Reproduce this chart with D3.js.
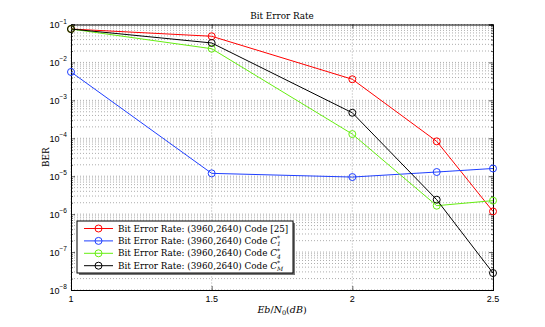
<!DOCTYPE html>
<html>
<head>
<meta charset="utf-8">
<script src="https://cdn.jsdelivr.net/npm/d3@7"></script>
<style>
  body { margin: 0; background: #fff; }
  svg { display: block; }
</style>
</head>
<body>
<svg id="chart" width="545" height="327"></svg>
<script>
// chart values
const ebno = [1, 1.5, 2, 2.3, 2.5];
const berCode25 = [0.076, 0.049, 0.0036, 8.3e-5, 1.18e-6];
const berC1 = [5.6e-3, 1.19e-5, 9.5e-6, 1.29e-5, 1.6e-5];
const berC4 = [0.076, 0.023, 1.29e-4, 1.67e-6, 2.27e-6];
const berCM = [0.076, 0.0326, 4.7e-4, 2.4e-6, 2.8e-8];
const xTicks = [1, 1.5, 2, 2.5];
const yExponents = [-1, -2, -3, -4, -5, -6, -7, -8];
const legendSubs = ["1", "4", "M"];

const series = [
  { values: berCode25, color: "#ff0000" },
  { values: berC1, color: "#1f3fff" },
  { values: berC4, color: "#66ee11" },
  { values: berCM, color: "#000000" }
];

const svg = d3.select("#chart");
const margin = { top: 24.5, right: 52, bottom: 37, left: 71 };
const width = 545 - margin.left - margin.right;
const height = 327 - margin.top - margin.bottom;

const x = d3.scaleLinear().domain([1, 2.5]).range([margin.left, margin.left + width]);
const y = d3.scaleLog().domain([1e-8, 1e-1]).range([margin.top + height, margin.top]);

const serif = "'DejaVu Serif', 'Liberation Serif', serif";
const sans = "'Liberation Sans', Arial, sans-serif";

// grid: minor horizontal lines
const minorVals = [];
for (let e = -8; e < -1; e++) {
  for (let m = 2; m <= 9; m++) minorVals.push(m * Math.pow(10, e));
}
const grid = svg.append("g").attr("stroke", "#8a8a8a").attr("stroke-width", 0.7)
  .attr("stroke-dasharray", "1,2");
grid.selectAll(".hminor").data(minorVals).enter().append("line")
  .attr("x1", x(1)).attr("x2", x(2.5))
  .attr("y1", d => y(d)).attr("y2", d => y(d));
grid.selectAll(".hmajor").data(yExponents).enter().append("line")
  .attr("x1", x(1)).attr("x2", x(2.5))
  .attr("y1", d => y(Math.pow(10, d))).attr("y2", d => y(Math.pow(10, d)));
grid.selectAll(".vmajor").data(xTicks).enter().append("line")
  .attr("y1", y(1e-1)).attr("y2", y(1e-8))
  .attr("x1", d => x(d)).attr("x2", d => x(d));

// axes with inward ticks
const allY = yExponents.map(e => Math.pow(10, e));
const axisG = svg.append("g");
axisG.append("g").attr("transform", `translate(0,${y(1e-8)})`)
  .call(d3.axisBottom(x).tickValues(xTicks).tickSize(-4).tickFormat(""));
axisG.append("g").attr("transform", `translate(0,${y(1e-1)})`)
  .call(d3.axisTop(x).tickValues(xTicks).tickSize(-4).tickFormat(""));
axisG.append("g").attr("transform", `translate(${x(1)},0)`)
  .call(d3.axisLeft(y).tickValues(allY).tickSize(-4).tickFormat(""));
axisG.append("g").attr("transform", `translate(${x(2.5)},0)`)
  .call(d3.axisRight(y).tickValues(allY).tickSize(-4).tickFormat(""));
axisG.append("g").attr("transform", `translate(${x(1)},0)`)
  .call(d3.axisLeft(y).tickValues(minorVals).tickSize(-2).tickFormat(""));
axisG.append("g").attr("transform", `translate(${x(2.5)},0)`)
  .call(d3.axisRight(y).tickValues(minorVals).tickSize(-2).tickFormat(""));
axisG.selectAll(".domain").attr("stroke", "#000").attr("stroke-width", 1);
axisG.selectAll(".tick line").attr("stroke", "#000").attr("stroke-width", 0.6);

// x tick labels
svg.selectAll(".xlab").data(xTicks).enter().append("text")
  .attr("x", d => x(d)).attr("y", y(1e-8) + 12)
  .attr("text-anchor", "middle")
  .attr("font-family", sans).attr("font-size", 9)
  .text(d => d);

// y tick labels 10^e
const ylab = svg.selectAll(".ylab").data(yExponents).enter().append("text")
  .attr("x", x(1) - 4).attr("y", d => y(Math.pow(10, d)) + 3.5)
  .attr("text-anchor", "end")
  .attr("font-family", sans).attr("font-size", 9);
ylab.append("tspan").text("10");
ylab.append("tspan").attr("dy", -4.5).attr("font-size", 6.5).text(d => "\u2212" + (-d));

// title and axis labels
svg.append("text").attr("x", x(1.75)).attr("y", 19)
  .attr("text-anchor", "middle").attr("font-family", serif).attr("font-size", 8.8)
  .text("Bit Error Rate");
svg.append("text").attr("transform", `translate(49,${(y(1e-1) + y(1e-8)) / 2}) rotate(-90)`)
  .attr("text-anchor", "middle").attr("font-family", serif).attr("font-size", 8.8)
  .text("BER");
const xl = svg.append("text").attr("x", x(1.75)).attr("y", 313)
  .attr("text-anchor", "middle").attr("font-family", serif).attr("font-size", 9.5)
  .attr("font-style", "italic");
xl.append("tspan").text("Eb");
xl.append("tspan").attr("font-style", "normal").text("/");
xl.append("tspan").text("N");
xl.append("tspan").attr("dy", 2).attr("font-size", 6.5).attr("font-style", "normal").text("0");
xl.append("tspan").attr("dy", -2).attr("font-style", "normal").text("(");
xl.append("tspan").text("dB");
xl.append("tspan").attr("font-style", "normal").text(")");

// series lines and markers
const line = d3.line().x((d, i) => x(ebno[i])).y(d => y(d));
series.forEach(s => {
  svg.append("path").datum(s.values)
    .attr("d", line).attr("fill", "none")
    .attr("stroke", s.color).attr("stroke-width", 1);
  svg.selectAll(null).data(s.values).enter().append("circle")
    .attr("cx", (d, i) => x(ebno[i])).attr("cy", d => y(d))
    .attr("r", 3.5).attr("fill", "none")
    .attr("stroke", s.color).attr("stroke-width", 1);
});

// legend
const lg = svg.append("g");
const lx = 77, ly = 221, lw = 216, lh = 52;
lg.append("rect").attr("x", lx + 2).attr("y", ly + 2).attr("width", lw).attr("height", lh)
  .attr("fill", "#777");
lg.append("rect").attr("x", lx).attr("y", ly).attr("width", lw).attr("height", lh)
  .attr("fill", "#fff").attr("stroke", "#000").attr("stroke-width", 1);
series.forEach((s, i) => {
  const yy = ly + 7.5 + i * 12.4;
  lg.append("line").attr("x1", lx + 7).attr("x2", lx + 36).attr("y1", yy).attr("y2", yy)
    .attr("stroke", s.color).attr("stroke-width", 1);
  lg.append("circle").attr("cx", lx + 21.5).attr("cy", yy).attr("r", 3.5)
    .attr("fill", "none").attr("stroke", s.color).attr("stroke-width", 1);
  const t = lg.append("text").attr("x", lx + 41).attr("y", yy + 3)
    .attr("font-family", serif).attr("font-size", 8.8);
  t.append("tspan").text("Bit Error Rate:  (3960,2640) Code ");
  if (i === 0) {
    t.append("tspan").text("[25]");
  } else {
    t.append("tspan").attr("font-style", "italic").text("C");
    t.append("tspan").attr("dy", -3.5).attr("font-size", 6).text("*");
    t.append("tspan").attr("dx", -3).attr("dy", 6).attr("font-size", 6)
      .attr("font-style", "italic").text(legendSubs[i - 1]);
  }
});
</script>
</body>
</html>
